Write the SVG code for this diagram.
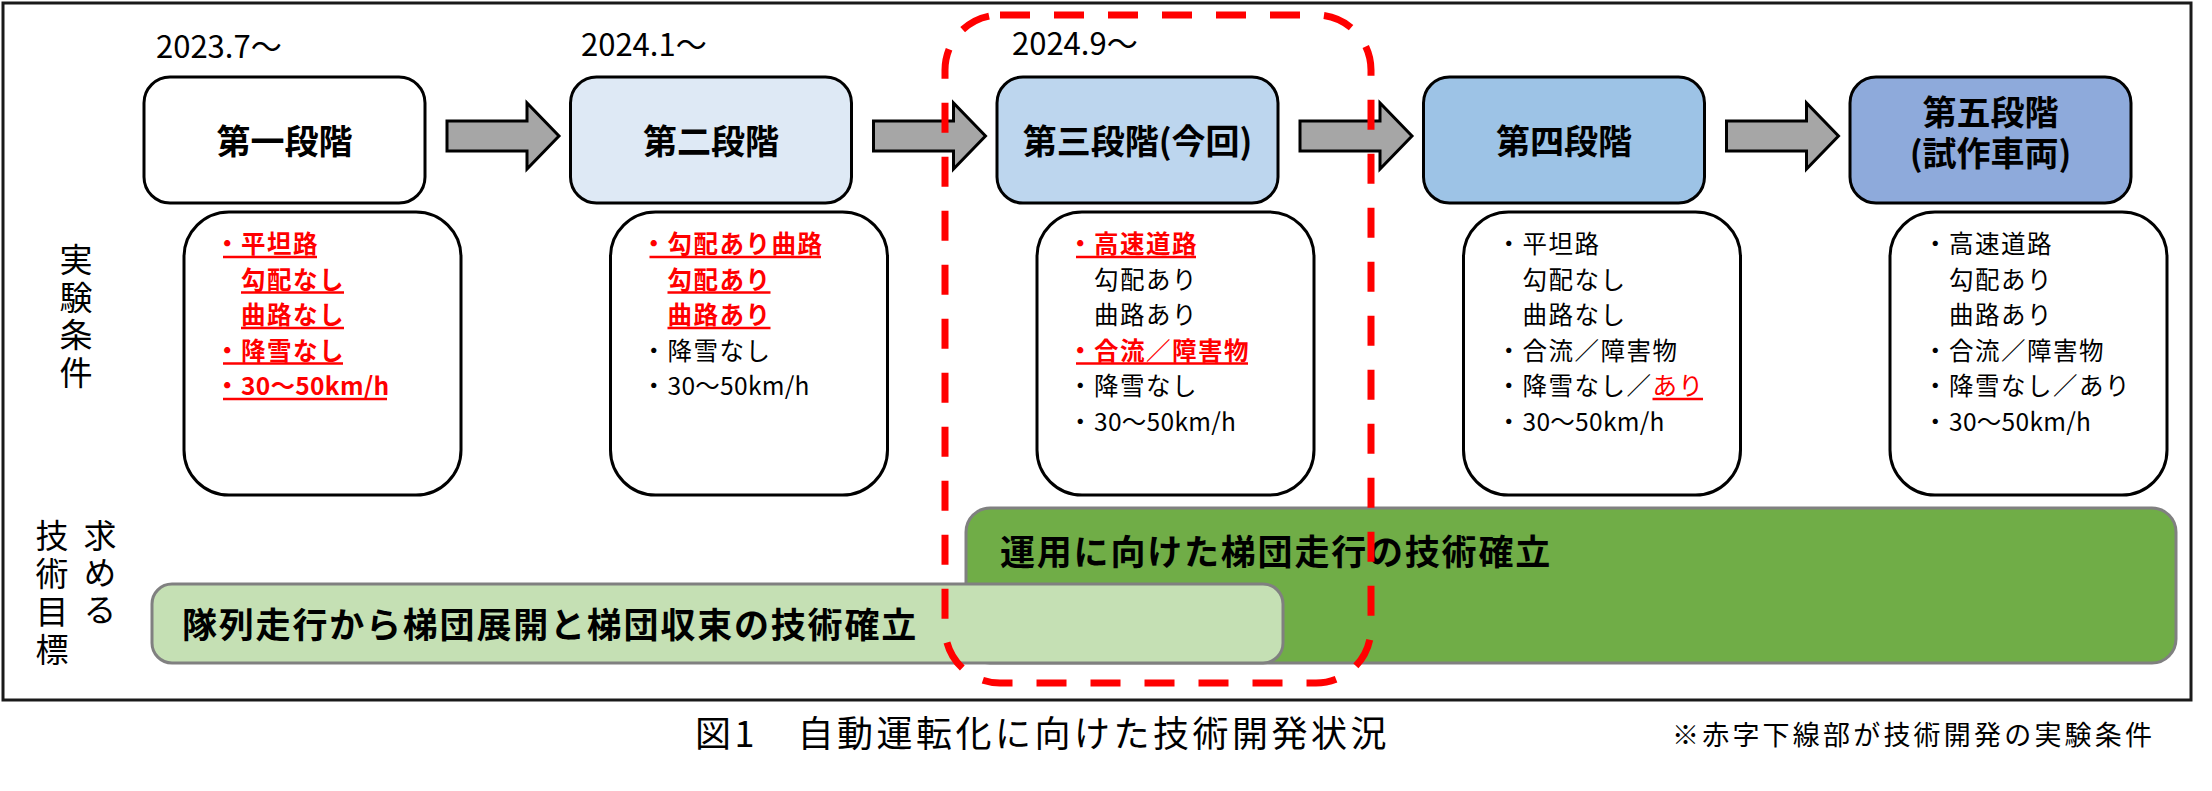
<svg xmlns="http://www.w3.org/2000/svg" width="2212" height="791" viewBox="0 0 2212 791">
<style>
text{font-family:"Noto Sans CJK JP","Noto Sans",sans-serif;fill:#000}
.stage{stroke:#000;stroke-width:3}
.cond{fill:#fff;stroke:#000;stroke-width:3}
.st{font-size:34px;font-weight:bold;text-anchor:middle}
.date{font-size:31px}
.c{font-size:24.5px;letter-spacing:1.5px}
.a{letter-spacing:0.3px}
.r{fill:#ff0000;font-weight:bold}
.rn{fill:#ff0000}
.ul{stroke:#ff0000;stroke-width:2.5}
.v{font-size:33px;writing-mode:vertical-rl}
.goal{stroke:#808080;stroke-width:3}
.gt{font-size:35px;font-weight:bold;letter-spacing:1.8px}
.arrow{fill:#a6a6a6;stroke:#000;stroke-width:3;stroke-linejoin:miter}
</style>
<rect x="0" y="0" width="2212" height="791" fill="#fff"/>
<rect id="frame" x="3" y="3" width="2188" height="697" fill="#fff" stroke="#1a1a1a" stroke-width="3"/>

<g id="dates">
<text class="date" x="156" y="58">2023.7～</text>
<text class="date" x="581" y="56">2024.1～</text>
<text class="date" x="1012" y="55">2024.9～</text>
</g>

<g id="stage1"><rect class="stage" x="144" y="77" width="281" height="126" rx="26" fill="#ffffff"/><text class="st" x="284.5" y="154">第一段階</text></g>
<g id="stage2"><rect class="stage" x="570.5" y="77" width="281" height="126" rx="26" fill="#dee9f5"/><text class="st" x="711" y="154">第二段階</text></g>
<g id="stage3"><rect class="stage" x="997" y="77" width="281" height="126" rx="26" fill="#bdd6ee"/><text class="st" x="1137.5" y="154">第三段階(今回)</text></g>
<g id="stage4"><rect class="stage" x="1423.5" y="77" width="281" height="126" rx="26" fill="#9dc3e6"/><text class="st" x="1564" y="154">第四段階</text></g>
<g id="stage5"><rect class="stage" x="1850" y="77" width="281" height="126" rx="26" fill="#8eaadb"/><text class="st" x="1990.5" y="125">第五段階</text><text class="st" x="1990.5" y="166">(試作車両)</text></g>

<g id="connectors">
<path class="arrow" d="M447,121 H527 V103 L559,136 L527,169 V151 H447 Z"/>
<path class="arrow" d="M873.5,121 H953.5 V103 L985.5,136 L953.5,169 V151 H873.5 Z"/>
<path class="arrow" d="M1300,121 H1380 V103 L1412,136 L1380,169 V151 H1300 Z"/>
<path class="arrow" d="M1726.5,121 H1806.5 V103 L1838.5,136 L1806.5,169 V151 H1726.5 Z"/>
</g>

<g id="label-conditions">
<text class="v" x="76" y="243" style="letter-spacing:4.5px">実験条件</text>
</g>

<g id="cond1">
<rect class="cond" x="184" y="212" width="277" height="283" rx="45"/>
<text class="c r" x="215" y="253">・平坦路</text>
<text class="c r" x="241" y="288.5">勾配なし</text>
<text class="c r" x="241" y="324">曲路なし</text>
<text class="c r" x="215" y="359.5">・降雪なし</text>
<text class="c r" x="215" y="395">・<tspan class="a">30～50km/h</tspan></text>
<line class="ul" x1="223" y1="257" x2="317" y2="257"/>
<line class="ul" x1="241" y1="292.5" x2="344" y2="292.5"/>
<line class="ul" x1="241" y1="328" x2="344" y2="328"/>
<line class="ul" x1="223" y1="363.5" x2="343" y2="363.5"/>
<line class="ul" x1="223" y1="399" x2="387" y2="399"/>
</g>

<g id="cond2">
<rect class="cond" x="610.5" y="212" width="277" height="283" rx="45"/>
<text class="c r" x="641.5" y="253">・勾配あり曲路</text>
<text class="c r" x="667.5" y="288.5">勾配あり</text>
<text class="c r" x="667.5" y="324">曲路あり</text>
<text class="c" x="641.5" y="359.5">・降雪なし</text>
<text class="c" x="641.5" y="395">・<tspan class="a">30～50km/h</tspan></text>
<line class="ul" x1="649.5" y1="257" x2="821" y2="257"/>
<line class="ul" x1="667.5" y1="292.5" x2="770.5" y2="292.5"/>
<line class="ul" x1="667.5" y1="328" x2="770.5" y2="328"/>
</g>

<g id="cond3">
<rect class="cond" x="1037" y="212" width="277" height="283" rx="45"/>
<text class="c r" x="1068" y="253">・高速道路</text>
<text class="c" x="1094" y="288.5">勾配あり</text>
<text class="c" x="1094" y="324">曲路あり</text>
<text class="c r" x="1068" y="359.5">・合流／障害物</text>
<text class="c" x="1068" y="395">・降雪なし</text>
<text class="c" x="1068" y="430.5">・<tspan class="a">30～50km/h</tspan></text>
<line class="ul" x1="1076" y1="257" x2="1196" y2="257"/>
<line class="ul" x1="1076" y1="363.5" x2="1248" y2="363.5"/>
</g>

<g id="cond4">
<rect class="cond" x="1463.5" y="212" width="277" height="283" rx="45"/>
<text class="c" x="1496.5" y="253">・平坦路</text>
<text class="c" x="1522.5" y="288.5">勾配なし</text>
<text class="c" x="1522.5" y="324">曲路なし</text>
<text class="c" x="1496.5" y="359.5">・合流／障害物</text>
<text class="c" x="1496.5" y="395">・降雪なし／<tspan class="rn">あり</tspan></text>
<text class="c" x="1496.5" y="430.5">・<tspan class="a">30～50km/h</tspan></text>
<line class="ul" x1="1652.5" y1="399" x2="1703" y2="399"/>
</g>

<g id="cond5">
<rect class="cond" x="1890" y="212" width="277" height="283" rx="45"/>
<text class="c" x="1923" y="253">・高速道路</text>
<text class="c" x="1949" y="288.5">勾配あり</text>
<text class="c" x="1949" y="324">曲路あり</text>
<text class="c" x="1923" y="359.5">・合流／障害物</text>
<text class="c" x="1923" y="395">・降雪なし／あり</text>
<text class="c" x="1923" y="430.5">・<tspan class="a">30～50km/h</tspan></text>
</g>

<g id="label-goals">
<text class="v" x="100" y="519" style="letter-spacing:4px">求める</text>
<text class="v" x="52" y="519" style="letter-spacing:5px">技術目標</text>
</g>

<g id="goal2">
<rect class="goal" x="966" y="508" width="1210" height="155" rx="24" fill="#70ad47"/>
<text class="gt" x="1000" y="565">運用に向けた梯団走行の技術確立</text>
</g>
<g id="goal1">
<rect class="goal" x="152" y="584" width="1131" height="79" rx="20" fill="#c5e0b4"/>
<text class="gt" x="182" y="638">隊列走行から梯団展開と梯団収束の技術確立</text>
</g>

<g id="highlight">
<rect x="945" y="15" width="426" height="668" rx="55" fill="none" stroke="#ff0000" stroke-width="7" stroke-dasharray="30 24"/>
</g>

<g id="caption">
<text x="695" y="747" style="font-size:36px;letter-spacing:3.5px">図1　自動運転化に向けた技術開発状況</text>
<text x="1672" y="745" style="font-size:27px;letter-spacing:3.2px">※赤字下線部が技術開発の実験条件</text>
</g>
</svg>
